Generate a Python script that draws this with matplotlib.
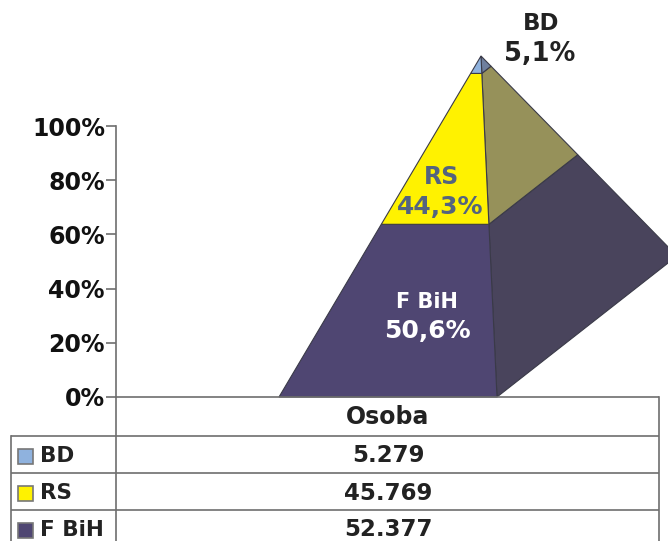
import matplotlib
matplotlib.use("Agg")
import matplotlib.pyplot as plt
from matplotlib.patches import Polygon, Rectangle
import numpy as np

plt.rcParams['font.family'] = ['DejaVu Sans']

W, H = 668, 541
# Data
series = ["BD", "RS", "F BiH"]
persons = [5279, 45769, 52377]
value_labels = ["5.279", "45.769", "52.377"]
share_labels = ["5,1%", "44,3%", "50,6%"]
category = "Osoba"
yticks = [0, 20, 40, 60, 80, 100]

front_cols = {"BD": "#8FB2DE", "RS": "#FFF200", "F BiH": "#4F4672"}
side_cols = {"BD": "#6F7F9E", "RS": "#96915A", "F BiH": "#49445C"}
swatch_cols = {"BD": "#8FB2DE", "RS": "#FFF200", "F BiH": "#4F4672"}
edge = "#3A3A48"
grid = "#6E6E6E"

fig = plt.figure(figsize=(W/100, H/100), dpi=100)

# value axis: 0% at y=397, 100% at y=126
y0, y100 = 397, 126
ax = fig.add_axes([116/W, 1-y0/H, (W-116)/W, (y0-y100)/H])
ax.set_xlim(116, W); ax.set_ylim(0, 100)
ax.patch.set_alpha(0)
for s in ["top", "right", "bottom"]:
    ax.spines[s].set_visible(False)
ax.spines["left"].set_color(grid); ax.spines["left"].set_linewidth(1.2)
ax.set_xticks([])
ax.set_yticks(yticks)
ax.set_yticklabels([f"{t}%" for t in yticks], fontsize=17, fontweight="bold", color="#111111")
ax.tick_params(axis="y", length=7, width=1.2, color=grid, pad=1)

# overlay in pixel coordinates for the table furniture, above the pyramid
ov = fig.add_axes([0, 0, 1, 1], zorder=5)
ov.set_xlim(0, W); ov.set_ylim(H, 0); ov.axis("off")

# pyramid geometry (horizontal pixel position, heights scaled by perspective)
persp = (y0-56)/(y0-y100)
apex = np.array([481.0, 100*persp])
fl = np.array([279.0, 0.0]); fr = np.array([497.0, 0.0]); br = np.array([677.0, (y0-256)/(y0-y100)*100])

def on(p, share):
    # point on edge p -> apex at cumulative share from the base
    return p + (apex-p)*share

total = sum(persons)
order = ["F BiH", "RS", "BD"]
vals = dict(zip(series, persons))
cum = 0.0
for name in order:
    lo = cum/total; cum += vals[name]; hi = cum/total
    ax.add_patch(Polygon([on(fr, lo), on(br, lo), on(br, hi), on(fr, hi)], closed=True,
                         facecolor=side_cols[name], edgecolor=edge, lw=0.8, clip_on=False))
    ax.add_patch(Polygon([on(fl, lo), on(fr, lo), on(fr, hi), on(fl, hi)], closed=True,
                         facecolor=front_cols[name], edgecolor=edge, lw=0.8, clip_on=False))

# data labels
lab = dict(zip(series, share_labels))
ov.text(541, 23, "BD", ha="center", va="center", fontsize=16.5, fontweight="bold", color="#222222")
ov.text(540, 54, lab["BD"], ha="center", va="center", fontsize=18.5, fontweight="bold", color="#222222")
ov.text(441, 177, "RS", ha="center", va="center", fontsize=17, fontweight="bold", color="#54647F")
ov.text(440, 207, lab["RS"], ha="center", va="center", fontsize=18, fontweight="bold", color="#54647F")
ov.text(427, 302, "F BiH", ha="center", va="center", fontsize=15, fontweight="bold", color="white")
ov.text(427, 331, lab["F BiH"], ha="center", va="center", fontsize=18, fontweight="bold", color="white")

# data table
lines = [(116, 659, 397), (11, 659, 436), (11, 659, 473), (11, 659, 510)]
for x1, x2, y in lines:
    ov.plot([x1, x2], [y, y], color=grid, lw=1.2, solid_capstyle="butt")
ov.plot([659, 659], [397, 541], color=grid, lw=1.2)
ov.plot([11, 11], [436, 541], color=grid, lw=1.2)
ov.plot([116, 116], [397, 541], color=grid, lw=1.2)
ov.text(388, 417, category, ha="center", va="center", fontsize=17, fontweight="bold", color="#222222")
row_y = [456, 493, 530]
for name, v, y in zip(series, value_labels, row_y):
    ov.add_patch(Rectangle((18, y-7.5), 15, 15, facecolor=swatch_cols[name], edgecolor="#777777", lw=1.2))
    ov.text(40, y, name, ha="left", va="center", fontsize=15.5, fontweight="bold", color="#222222")
    ov.text(388, y, v, ha="center", va="center", fontsize=16.5, fontweight="bold", color="#222222")

fig.savefig("out.png", dpi=100)
